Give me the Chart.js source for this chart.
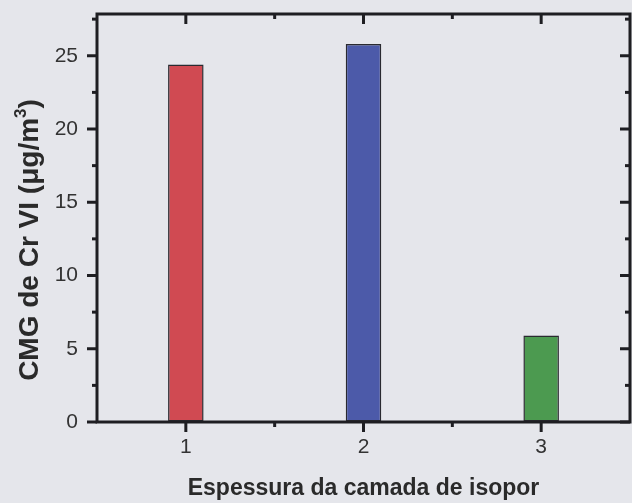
<!DOCTYPE html>
<html>
<head>
<meta charset="utf-8">
<script src="https://cdn.jsdelivr.net/npm/chart.js@4/dist/chart.umd.min.js"></script>
<style>
  html, body { margin: 0; padding: 0; background: #e5e6eb; }
  #wrap { width: 632px; height: 503px; }
</style>
</head>
<body>
<div id="wrap"><canvas id="c" width="632" height="503"></canvas></div>
<script>
// Layer thickness (categories) and Cr VI concentration per layer
const thickness = [1, 2, 3];
const concentration = [24.4, 25.8, 5.9];
const barColors = ['#d04a52', '#4c5aa9', '#4c9a50'];
const xTicks = [1, 2, 3];
const yTicks = [0, 5, 10, 15, 20, 25];
const yTitleMain = 'CMG de Cr VI (\u03bcg/m';
const yTitleSup = '3';
const yTitleEnd = ')';

const INK = '#1e1e22';
const FONT = 'Liberation Sans, Arial, sans-serif';

// Background, frame, tick marks on all four sides and the y-axis title with a superscript
const framePlugin = {
  id: 'frame',
  beforeDraw(chart) {
    const ctx = chart.ctx;
    ctx.save();
    ctx.fillStyle = '#e5e6eb';
    ctx.fillRect(0, 0, chart.width, chart.height);
    ctx.restore();
  },
  afterDraw(chart) {
    const { ctx, chartArea: a, scales: { x, y } } = chart;
    ctx.save();
    ctx.strokeStyle = INK;
    ctx.lineCap = 'butt';
    ctx.lineWidth = 3;
    ctx.strokeRect(a.left, a.top, a.right - a.left, a.bottom - a.top);

    const tick = (x1, y1, x2, y2) => {
      ctx.beginPath(); ctx.moveTo(x1, y1); ctx.lineTo(x2, y2); ctx.stroke();
    };
    const MAJ = 10, MIN = 5;
    // x ticks: outward on bottom, inward on top
    const xMinor = [];
    for (let i = 0; i < xTicks.length - 1; i++) xMinor.push((xTicks[i] + xTicks[i + 1]) / 2);
    xTicks.forEach(v => {
      const px = x.getPixelForValue(v);
      tick(px, a.bottom, px, a.bottom + MAJ);
      tick(px, a.top, px, a.top + MAJ);
    });
    xMinor.forEach(v => {
      const px = x.getPixelForValue(v);
      tick(px, a.bottom, px, a.bottom + MIN);
      tick(px, a.top, px, a.top + MIN);
    });
    // y ticks: outward on left, inward on right
    const yMinor = yTicks.map(v => v + 2.5).filter(v => v < y.max);
    yTicks.forEach(v => {
      const py = y.getPixelForValue(v);
      tick(a.left - MAJ, py, a.left, py);
      tick(a.right - MAJ, py, a.right, py);
    });
    yMinor.forEach(v => {
      const py = y.getPixelForValue(v);
      tick(a.left - MIN, py, a.left, py);
      tick(a.right - MIN, py, a.right, py);
    });

    // rotated y title
    const main = `bold 28px ${FONT}`;
    const sup = `bold 17px ${FONT}`;
    ctx.font = main;
    const w1 = ctx.measureText(yTitleMain).width;
    const w3 = ctx.measureText(yTitleEnd).width;
    ctx.font = sup;
    const w2 = ctx.measureText(yTitleSup).width;
    const total = w1 + w2 + w3;
    ctx.translate(38, 240);
    ctx.rotate(-Math.PI / 2);
    ctx.fillStyle = '#2a2a2a';
    ctx.textBaseline = 'alphabetic';
    ctx.textAlign = 'left';
    let cx = -total / 2;
    ctx.font = main;
    ctx.fillText(yTitleMain, cx, 0);
    cx += w1;
    ctx.font = sup;
    ctx.fillText(yTitleSup, cx, -12);
    cx += w2;
    ctx.font = main;
    ctx.fillText(yTitleEnd, cx, 0);
    ctx.restore();
  }
};

new Chart(document.getElementById('c'), {
  type: 'bar',
  data: {
    datasets: [{
      data: thickness.map((t, i) => ({ x: t, y: concentration[i] })),
      backgroundColor: barColors,
      borderColor: '#2a2a30',
      borderWidth: 1.5,
      borderSkipped: false,
      categoryPercentage: 1,
      barPercentage: 0.2
    }]
  },
  options: {
    responsive: false,
    animation: false,
    devicePixelRatio: 1,
    layout: { padding: { top: 14, right: 2, left: 0, bottom: 0 } },
    plugins: { legend: { display: false }, tooltip: { enabled: false } },
    scales: {
      x: {
        type: 'linear',
        offset: false,
        min: 0.5,
        max: 3.5,
        afterBuildTicks: s => { s.ticks = xTicks.map(v => ({ value: v })); },
        afterFit: s => { s.height = 81; },
        grid: { display: false, offset: false },
        border: { display: false },
        ticks: {
          color: '#333',
          font: { family: FONT, size: 21 },
          padding: 5,
          maxRotation: 0
        },
        title: {
          display: true,
          text: 'Espessura da camada de isopor',
          color: '#2a2a2a',
          font: { family: FONT, size: 23, weight: 'bold' },
          padding: { top: 0, bottom: 1 }
        }
      },
      y: {
        min: 0,
        max: 27.85,
        afterBuildTicks: s => { s.ticks = yTicks.map(v => ({ value: v })); },
        afterFit: s => { s.width = 97; },
        grid: { display: true, drawOnChartArea: false, drawTicks: true, tickLength: 19, tickColor: 'rgba(0,0,0,0)' },
        border: { display: false },
        ticks: {
          color: '#333',
          font: { family: FONT, size: 21 },
          padding: 0
        }
      }
    }
  },
  plugins: [framePlugin]
});
</script>
</body>
</html>
